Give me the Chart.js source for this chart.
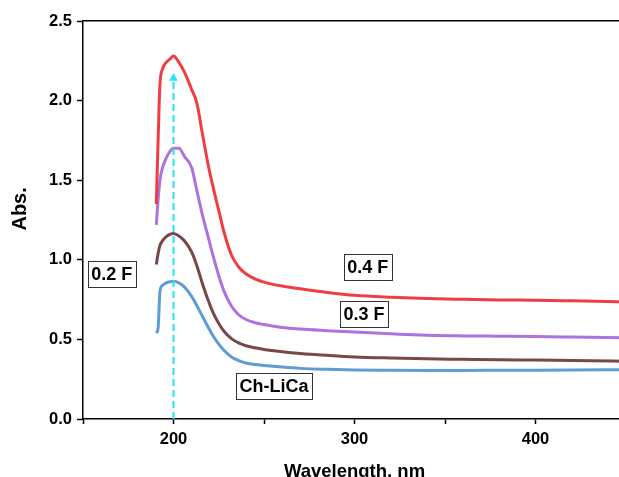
<!DOCTYPE html>
<html lang="en">

<head>
  <meta charset="UTF-8">
  <title>Abs. x Wavelength</title>
  <script src="https://cdn.jsdelivr.net/npm/chart.js"></script>
  <style>
    html, body { margin: 0; padding: 0; background: #fff; overflow: hidden; }
    #box { position: absolute; left: 0; top: 0; width: 632px; height: 495px; }
  </style>
</head>

<body>
  <div id="box">
    <canvas id="grafico_abs" width="632" height="495"></canvas>
  </div>

<script>
  // wavelength (nm) shared by all curves
  const wavelength = [190.5, 191.5, 192.5, 194, 196, 198, 200, 203, 206, 210, 213, 216, 219, 222, 225, 228,
    232, 236, 240, 245, 250, 260, 270, 285, 300, 320, 340, 360, 380, 400, 420, 450];

  const abs04F = [1.35, 1.75, 2.10, 2.20, 2.24, 2.26, 2.28, 2.24, 2.18, 2.07, 1.98, 1.79, 1.605, 1.45, 1.31, 1.17,
    1.03, 0.955, 0.912, 0.88, 0.86, 0.835, 0.818, 0.795, 0.777, 0.765, 0.757, 0.752, 0.748, 0.746, 0.742, 0.735];

  const abs03F = [1.22, 1.38, 1.50, 1.58, 1.64, 1.68, 1.70, 1.70, 1.65, 1.58, 1.43, 1.28, 1.15, 1.02, 0.90, 0.80,
    0.71, 0.655, 0.625, 0.605, 0.593, 0.575, 0.565, 0.555, 0.546, 0.535, 0.526, 0.522, 0.52, 0.518, 0.515, 0.51];

  const abs02F = [0.97, 1.04, 1.09, 1.12, 1.145, 1.16, 1.165, 1.15, 1.12, 1.05, 0.96, 0.85, 0.75, 0.665, 0.60, 0.55,
    0.505, 0.478, 0.46, 0.447, 0.437, 0.423, 0.412, 0.40, 0.39, 0.383, 0.378, 0.375, 0.372, 0.37, 0.367, 0.363];

  const absChLiCa = [0.54, 0.57, 0.80, 0.84, 0.855, 0.862, 0.865, 0.855, 0.83, 0.77, 0.71, 0.645, 0.58, 0.52, 0.47, 0.43,
    0.39, 0.367, 0.352, 0.342, 0.336, 0.326, 0.318, 0.312, 0.308, 0.306, 0.305, 0.305, 0.306, 0.307, 0.308, 0.31];

  // dashed arrow at the peak wavelength
  const arrowX = [200, 200];
  const arrowY = [0, 2.14];

  const xTicks = [200, 300, 400];
  const yTicks = [0.0, 0.5, 1.0, 1.5, 2.0, 2.5];

  const labelText = ['0.2 F', '0.4 F', '0.3 F', 'Ch-LiCa'];
  const labelX = [165.9, 307.3, 305.2, 255.5];
  const labelY = [0.91, 0.956, 0.657, 0.205];

  function pontos(xs, ys) {
    return xs.map((x, i) => ({ x: x, y: ys[i] }));
  }

  function serie(nome, ys, cor) {
    return {
      label: nome,
      data: pontos(wavelength, ys),
      borderColor: cor,
      borderWidth: 3,
      pointRadius: 0,
      cubicInterpolationMode: 'monotone',
      fill: false
    };
  }

  const caixas = {
    id: 'caixas',
    afterDatasetsDraw(chart) {
      const ctx = chart.ctx;
      const sx = chart.scales.x;
      const sy = chart.scales.y;
      ctx.save();
      ctx.font = 'bold 18px "Liberation Sans", Arial, sans-serif';
      ctx.textAlign = 'center';
      ctx.textBaseline = 'middle';
      labelText.forEach((t, i) => {
        const cx = sx.getPixelForValue(labelX[i]);
        const cy = sy.getPixelForValue(labelY[i]);
        const w = ctx.measureText(t).width + 7;
        const h = 26;
        ctx.fillStyle = '#fff';
        ctx.fillRect(cx - w / 2, cy - h / 2, w, h);
        ctx.strokeStyle = '#333';
        ctx.lineWidth = 1;
        ctx.strokeRect(Math.round(cx - w / 2) + 0.5, Math.round(cy - h / 2) + 0.5, Math.round(w), h);
        ctx.fillStyle = '#000';
        ctx.fillText(t, cx, cy + 1);
      });
      ctx.restore();
    }
  };

  const fonteTick = { family: '"Liberation Sans", Arial, sans-serif', size: 16.5, weight: 'bold' };

  const config = {
    type: 'line',
    data: {
      datasets: [
        {
          label: 'seta',
          data: pontos(arrowX, arrowY),
          borderColor: '#1ee6f5',
          backgroundColor: '#1ee6f5',
          borderWidth: 2,
          borderDash: [7, 4],
          pointStyle: 'triangle',
          pointRadius: [0, 5],
          pointBorderWidth: 0,
          fill: false
        },
        serie('0.4 F', abs04F, '#ef3e42'),
        serie('0.3 F', abs03F, '#ad72de'),
        serie('0.2 F', abs02F, '#7a4747'),
        serie('Ch-LiCa', absChLiCa, '#5f9cd3')
      ]
    },
    options: {
      responsive: false,
      animation: false,
      devicePixelRatio: 1,
      layout: { padding: { top: 21, right: 3, left: 0, bottom: 0 } },
      plugins: {
        legend: { display: false },
        tooltip: { enabled: false }
      },
      scales: {
        x: {
          type: 'linear',
          position: 'bottom',
          min: 150,
          max: 450,
          afterBuildTicks: s => { s.ticks = [150, 200, 250, 300, 350, 400, 450].map(v => ({ value: v })); },
          afterFit: s => { s.height = 76; },
          ticks: {
            autoSkip: false,
            maxRotation: 0,
            padding: 6,
            color: '#000',
            font: fonteTick,
            callback: v => xTicks.includes(v) ? String(v) : ''
          },
          grid: { drawOnChartArea: false, drawTicks: true, tickLength: 5, tickWidth: 1.5, tickColor: '#000' },
          border: { display: true, color: '#000', width: 1.5 },
          title: {
            display: true,
            text: 'Wavelength, nm',
            color: '#000',
            font: { family: '"Liberation Sans", Arial, sans-serif', size: 18.5, weight: 'bold' },
            padding: { top: 0, bottom: 11.5 }
          }
        },
        x2: {
          type: 'linear',
          position: 'top',
          min: 150,
          max: 450,
          afterFit: s => { s.height = 0; },
          ticks: { display: false },
          grid: { display: false },
          border: { display: true, color: '#000', width: 1.5 }
        },
        y: {
          type: 'linear',
          min: 0,
          max: 2.5,
          afterBuildTicks: s => { s.ticks = yTicks.map(v => ({ value: v })); },
          afterFit: s => { s.width = 83; },
          ticks: {
            padding: 5,
            color: '#000',
            font: fonteTick,
            callback: v => v.toFixed(1)
          },
          grid: { drawOnChartArea: false, drawTicks: true, tickLength: 6, tickWidth: 1.5, tickColor: '#000' },
          border: { display: true, color: '#000', width: 1.5 },
          title: {
            display: true,
            text: '    Abs.',
            color: '#000',
            font: { family: '"Liberation Sans", Arial, sans-serif', size: 20, weight: 'bold' },
            padding: { top: 8, bottom: 0 }
          }
        }
      }
    },
    plugins: [caixas]
  };

  const myChart = new Chart(document.getElementById('grafico_abs'), config);
</script>
</body>

</html>
